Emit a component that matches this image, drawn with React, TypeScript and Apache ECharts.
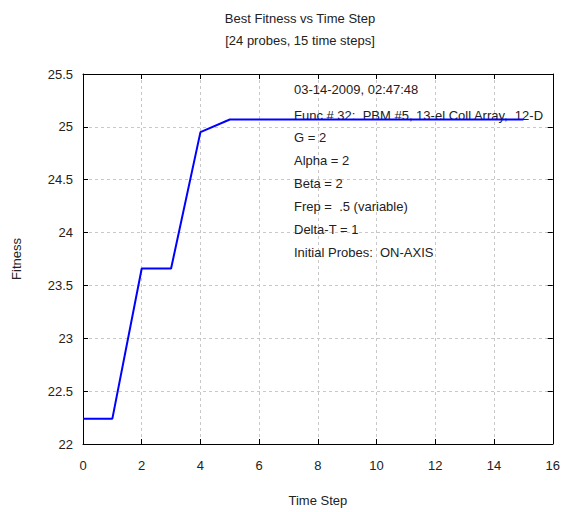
import React, { useEffect, useRef } from "react";
import * as echarts from "echarts";

const timeSteps = [0, 1, 2, 3, 4, 5, 6, 7, 8, 9, 10, 11, 12, 13, 14, 15];
const bestFitness = [22.24, 22.24, 23.66, 23.66, 24.95, 25.07, 25.07, 25.07, 25.07, 25.07, 25.07, 25.07, 25.07, 25.07, 25.07, 25.07];
const titleText = "Best Fitness vs Time Step";
const subtitleText = "[24 probes, 15 time steps]";
const annotationLines = [
  "03-14-2009, 02:47:48",
  "Func # 32:  PBM #5, 13-el Coll Array,  12-D",
  "G = 2",
  "Alpha = 2",
  "Beta = 2",
  "Frep =  .5 (variable)",
  "Delta-T = 1",
  "Initial Probes:  ON-AXIS",
];
const annotationY = [91, 117, 139, 162, 185, 208, 231, 254];

const FONT = "Liberation Sans, Arial, sans-serif";

export default function App() {
  const ref = useRef<HTMLDivElement>(null);
  useEffect(() => {
    if (!ref.current) return;
    const chart = echarts.init(ref.current, undefined, { renderer: "svg" });
    const axisCommon = {
      axisLine: { show: true, onZero: false, lineStyle: { color: "#000", width: 1 } },
      axisTick: { show: true, inside: true, length: 5, lineStyle: { color: "#000" } },
    };
    chart.setOption({
      animation: false,
      backgroundColor: "#fff",
      textStyle: { fontFamily: FONT },
      title: {
        text: titleText,
        subtext: subtitleText,
        left: 295,
        textAlign: "center",
        top: 7,
        itemGap: 9,
        textStyle: { fontSize: 13, fontWeight: "normal", color: "#222", fontFamily: FONT },
        subtextStyle: { fontSize: 13, color: "#222", fontFamily: FONT },
      },
      grid: { left: 83, right: 10, top: 74, bottom: 67, containLabel: false },
      xAxis: [
        {
          type: "value",
          min: 0,
          max: 16,
          interval: 2,
          name: "Time Step",
          nameLocation: "middle",
          nameGap: 50,
          nameTextStyle: { fontSize: 13, color: "#222", fontFamily: FONT },
          ...axisCommon,
          axisLabel: { color: "#222", fontSize: 13, margin: 15, fontFamily: FONT },
          splitLine: { show: true, lineStyle: { color: "#c8c8c8", type: [3, 3] } },
        },
        {
          type: "value",
          position: "top",
          min: 0,
          max: 16,
          interval: 2,
          ...axisCommon,
          axisLabel: { show: false },
          splitLine: { show: false },
        },
      ],
      yAxis: [
        {
          type: "value",
          min: 22,
          max: 25.5,
          interval: 0.5,
          name: "Fitness",
          nameLocation: "middle",
          nameGap: 60,
          nameRotate: 90,
          nameTextStyle: { fontSize: 13, color: "#222", fontFamily: FONT },
          ...axisCommon,
          axisLabel: { color: "#222", fontSize: 13, margin: 10, fontFamily: FONT },
          splitLine: { show: true, lineStyle: { color: "#c8c8c8", type: [3, 3] } },
        },
        {
          type: "value",
          position: "right",
          min: 22,
          max: 25.5,
          interval: 0.5,
          ...axisCommon,
          axisLabel: { show: false },
          splitLine: { show: false },
        },
      ],
      graphic: annotationLines.map((t, i) => ({
        type: "text",
        left: 294,
        top: annotationY[i] - 8,
        z: 1,
        zlevel: 0,
        style: { text: t, fill: "#222", font: `13px ${FONT}` },
      })),
      series: [
        {
          type: "line",
          data: timeSteps.map((x, i) => [x, bestFitness[i]]),
          showSymbol: false,
          symbol: "none",
          lineStyle: { color: "#0000ff", width: 2 },
          z: 10,
        },
      ],
    });
    return () => chart.dispose();
  }, []);
  return <div ref={ref} style={{ position: "fixed", left: 0, top: 0, width: 563, height: 512 }} />;
}
